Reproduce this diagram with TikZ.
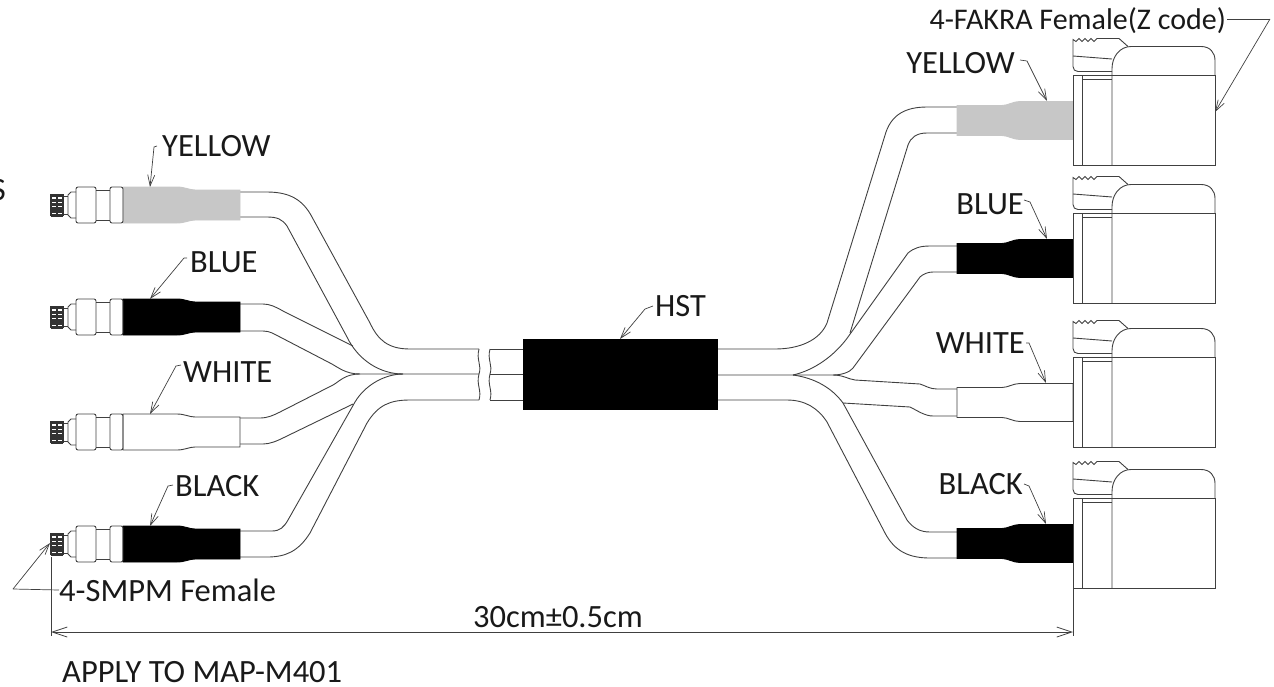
\documentclass[tikz,border=0pt]{standalone}
\usepackage{fontspec}
\setmainfont{Carlito}
\usetikzlibrary{arrows.meta}

\definecolor{sleevegrey}{gray}{0.78}
\definecolor{linegrey}{gray}{0.25}

\tikzset{
  wire/.style={draw=linegrey,line width=0.9pt},
  lbl/.style={inner sep=0pt,text=black!90,font=\fontsize{32.5}{36}\selectfont},
  leader/.style={draw=linegrey,line width=0.7pt,-{Straight Barb[length=11pt,width=7pt]}},
  dimline/.style={draw=linegrey,line width=0.8pt,{Straight Barb[length=15pt,width=10pt]}-{Straight Barb[length=15pt,width=10pt]}},
  greysleeve/.style={fill=sleevegrey,draw=sleevegrey},
  blacksleeve/.style={fill=black,draw=black},
  whitesleeve/.style={fill=white,wire},
  pics/smpm/.style={code={
    \path[#1,line width=0.9pt] (0,-18) -- (54,-18) .. controls (62,-18) and (66,-15) .. (72,-15) -- (117,-15) -- (117,15) -- (72,15) .. controls (66,15) and (62,18) .. (54,18) -- (0,18) -- cycle;
    \draw[wire,rounded corners=2pt] (-13,-18) rectangle (0,18);
    \draw[wire,rounded corners=2pt] (-47,-18) rectangle (-27,18);
    \draw[wire] (-27,-15) -- (-13,-15) (-27,15) -- (-13,15);
    \draw[wire] (-47,-13) -- (-52,-13) -- (-55,-10) -- (-55,10) -- (-52,13) -- (-47,13);
    \draw[wire] (-59,-9) -- (-55,-9) (-59,9) -- (-55,9);
    \foreach \y in {-10,-5,-1,3,6,10}
      \fill[black!80] (-72,\y-1.5) rectangle (-60,\y+1.5);
    \foreach \x in {-72,-66,-60}
      \draw[black!80,line width=1.2pt] (\x,-11) -- (\x,11);
  }},
  pics/fakra/.style={code={
    \path[#1,line width=0.9pt] (-116,-15) -- (-71,-15) .. controls (-65,-15) and (-60,-19) .. (-53,-19) -- (0,-19) -- (0,19) -- (-53,19) .. controls (-60,19) and (-65,15) .. (-71,15) -- (-116,15) -- cycle;
    \draw[wire] (0,-45) rectangle (142,45);
    \draw[wire] (9,-45) -- (9,45) (9,-41) -- (39,-41);
    \draw[wire] (39,45) -- (39,-52) .. controls (39,-64) and (47,-74) .. (58,-74) -- (128,-74) .. controls (137,-74) and (142,-68) .. (142,-60) -- (142,-45);
    \draw[wire] (39,-49) -- (5,-49) .. controls (2,-49) and (0,-51) .. (0,-54) -- (0,-81) -- (3,-79) -- (6,-82) -- (9,-79) -- (12,-82) -- (15,-79) -- (18,-82) -- (21,-79) -- (24,-82) -- (46,-82) -- (55,-74);
    \draw[wire] (0,-64.5) -- (39,-61.5);
  }}
}

\begin{document}
\begin{tikzpicture}[x=1pt,y=-1pt]
  \useasboundingbox (0,0) rectangle (1274,686);

  % left cables
  \draw[wire] (239,192) -- (267,192) .. controls (290,192) and (303,200) .. (312,217) -- (370,323) .. controls (378,340) and (388,349) .. (410,349) -- (479,349);
  \draw[wire] (239,217) -- (267,217) .. controls (277,217) and (282,219) .. (287,226) -- (347,337) .. controls (358,360) and (380,374) .. (403,374);
  \draw[wire] (239,304) -- (263,304) .. controls (270,304) and (276,307) .. (283,311) -- (353,346);
  \draw[wire] (239,331) -- (263,331) .. controls (270,331) and (274,334) .. (280,337) -- (330,363) .. controls (338,367) and (345,374) .. (360,374) -- (479,374);
  \draw[wire] (239,418) -- (260,418) .. controls (268,418) and (274,415) .. (280,412) -- (333,385) .. controls (340,381) and (345,374) .. (360,374);
  \draw[wire] (239,444) -- (263,444) .. controls (270,444) and (277,441) .. (285,437) -- (353,404);
  \draw[wire] (239,531) -- (272,531) .. controls (280,531) and (284,527) .. (288,520) -- (355,402) .. controls (365,385) and (385,374) .. (403,374);
  \draw[wire] (239,557) -- (267,557) .. controls (285,557) and (298,552) .. (310,533) -- (367,423) .. controls (378,405) and (390,400) .. (410,400) -- (479,400);

  % break
  \draw[wire] (479,349) .. controls (476,360) and (482,365) .. (479,374) .. controls (476,385) and (482,390) .. (479,400);
  \draw[wire] (490,349) .. controls (487,360) and (493,365) .. (490,374) .. controls (487,385) and (493,390) .. (490,400);
  \draw[wire] (490,349) -- (523,349) (490,374) -- (523,374) (490,400) -- (523,400);

  % right cables
  \draw[wire] (718,349) -- (775,349) .. controls (800,349) and (820,340) .. (827,323) -- (886,132) .. controls (892,115) and (905,107) .. (927,107) -- (957,107);
  \draw[wire] (957,133) -- (927,133) .. controls (917,133) and (911,137) .. (908,145) -- (850,333);
  \draw[wire] (957,246) -- (930,246) .. controls (920,246) and (914,248) .. (908,253) -- (848,337) .. controls (835,355) and (815,370) .. (793,375);
  \draw[wire] (957,272) -- (933,272) .. controls (928,272) and (923,274) .. (920,277) -- (853,368) .. controls (850,372) and (842,375) .. (833,375) -- (718,375);
  \draw[wire] (957,389) -- (937,389) .. controls (930,389) and (926,386) .. (920,384) -- (855,380) .. controls (848,379) and (843,375) .. (833,375);
  \draw[wire] (957,416) -- (933,416) .. controls (925,416) and (918,411) .. (910,407) -- (843,403);
  \draw[wire] (793,375) .. controls (815,378) and (832,388) .. (843,403) -- (907,520) .. controls (913,528) and (920,532) .. (930,532) -- (957,532);
  \draw[wire] (718,400) -- (787,400) .. controls (805,400) and (818,408) .. (827,422) -- (885,533) .. controls (895,552) and (910,558) .. (930,558) -- (957,558);

  % connectors
  \pic (smpmyellow) at (123,205) {smpm={greysleeve}};
  \pic (smpmblue) at (123,317) {smpm={blacksleeve}};
  \pic (smpmwhite) at (123,432) {smpm={whitesleeve}};
  \pic (smpmblack) at (123,544) {smpm={blacksleeve}};
  \pic (fakrayellow) at (1073,120.5) {fakra={greysleeve}};
  \pic (fakrablue) at (1073,258.5) {fakra={blacksleeve}};
  \pic (fakrawhite) at (1073,402.5) {fakra={whitesleeve}};
  \pic (fakrablack) at (1073,543.5) {fakra={blacksleeve}};

  \node[fill=black,minimum width=195pt,minimum height=71pt,inner sep=0pt] (hst) at (620.5,374.5) {};

  % labels
  \node[lbl,anchor=east] (cutoff) at (6,190) {S};
  \node[lbl,anchor=west] (yellowL) at (162,146) {YELLOW};
  \node[lbl,anchor=west] (blueL) at (190,262) {BLUE};
  \node[lbl,anchor=west] (whiteL) at (183,372) {WHITE};
  \node[lbl,anchor=west] (blackL) at (175,486) {BLACK};
  \node[lbl,anchor=west] (smpmL) at (59,590) {4-SMPM Female};
  \node[lbl,anchor=west] (hstL) at (655,306) {HST};
  \node[lbl,anchor=east,font=\fontsize{30}{34}\selectfont] (fakraL) at (1226,21) {4-FAKRA Female(Z code)};
  \node[lbl,anchor=east] (yellowR) at (1015,63) {YELLOW};
  \node[lbl,anchor=east] (blueR) at (1024,204) {BLUE};
  \node[lbl,anchor=east] (whiteR) at (1025,343) {WHITE};
  \node[lbl,anchor=east] (blackR) at (1023,484) {BLACK};
  \node[lbl] (lengthL) at (558,617) {30cm±0.5cm};
  \node[lbl,anchor=west] (applyL) at (62,672) {APPLY TO MAP-M401};

  % leaders
  \coordinate (yellowLtip) at (150,187);
  \coordinate (blueLtip) at (150,299);
  \coordinate (whiteLtip) at (150,414);
  \coordinate (blackLtip) at (150,526);
  \coordinate (smpmtip) at (50,543);
  \coordinate (smpmknee) at (13,589);
  \coordinate (hsttip) at (620,339);
  \coordinate (fakraknee) at (1270,19);
  \coordinate (fakratip) at (1215,112);
  \coordinate (yellowRtip) at (1047,101);
  \coordinate (blueRtip) at (1047,239);
  \coordinate (whiteRtip) at (1046,383);
  \coordinate (blackRtip) at (1046,524);

  \draw[leader] (yellowL.west) ++(-5,0) -- ++(-3,1) -- (yellowLtip);
  \draw[leader] (blueL.west) ++(-3,-4) -- ++(-3,0) -- (blueLtip);
  \draw[leader] (whiteL.west) ++(-2,-7) -- ++(-5,1) -- (whiteLtip);
  \draw[leader] (blackL.west) ++(-2,-1) -- ++(-5,1) -- (blackLtip);
  \draw[wire,line width=0.7pt] (smpmL.west) -- (smpmknee);
  \draw[leader] (smpmknee) -- (smpmtip);
  \draw[leader] (hstL.west) ++(-2,0) -- ++(-8,3) -- (hsttip);
  \draw[wire,line width=0.7pt] (fakraL.east) ++(1,-2) -- (fakraknee);
  \draw[leader] (fakraknee) -- (fakratip);
  \draw[leader] (yellowR.east) ++(5,-3) -- ++(7,1) -- (yellowRtip);
  \draw[leader] (blueR.east) ++(0,-4) -- ++(6,2) -- (blueRtip);
  \draw[leader] (whiteR.east) ++(1,0) -- ++(3,0) -- (whiteRtip);
  \draw[leader] (blackR.east) ++(1,0) -- ++(5,2) -- (blackRtip);

  % dimension
  \coordinate (dimleft) at (51,632);
  \coordinate (dimright) at (1073,632);
  \draw[wire,line width=0.7pt] (51,557) -- (51,636) (1073,588) -- (1073,636);
  \draw[dimline] (dimleft) -- (dimright);
\end{tikzpicture}
\end{document}
